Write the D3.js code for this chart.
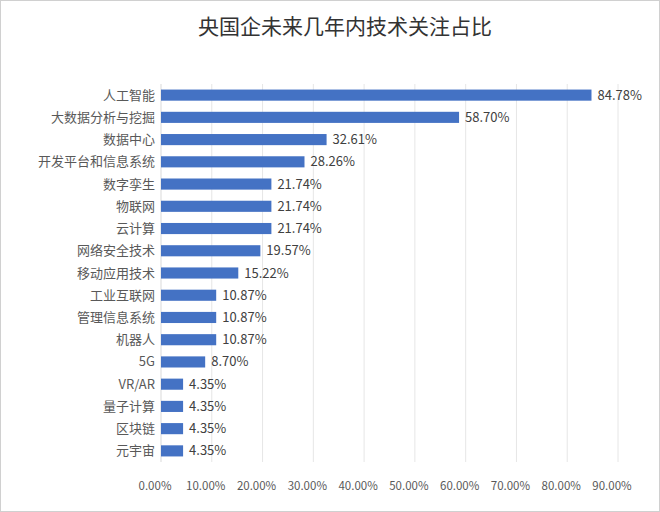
<!DOCTYPE html>
<html><head><meta charset="utf-8">
<script src="https://cdn.jsdelivr.net/npm/d3@7"></script>
<style>body{margin:0;background:#fff}</style>
</head><body>
<script>
const categories = ["人工智能","大数据分析与挖掘","数据中心","开发平台和信息系统","数字孪生","物联网","云计算","网络安全技术","移动应用技术","工业互联网","管理信息系统","机器人","5G","VR/AR","量子计算","区块链","元宇宙"];
const values = [84.78,58.70,32.61,28.26,21.74,21.74,21.74,19.57,15.22,10.87,10.87,10.87,8.70,4.35,4.35,4.35,4.35];
const ticks = [0,10,20,30,40,50,60,70,80,90];

const W = 660, H = 512;
const font = "'Noto Sans CJK SC', 'Noto Sans', sans-serif";
const svg = d3.select("body").append("svg").attr("width", W).attr("height", H);

svg.append("rect").attr("x", 0.5).attr("y", 0.5).attr("width", W - 1).attr("height", H - 1)
  .attr("fill", "none").attr("stroke", "#d0d0d0");

const x = d3.scaleLinear().domain([0, 90]).range([161, 618]);
const y = d3.scaleBand().domain(categories).range([84, 462]).paddingInner(0.5).paddingOuter(0.25);

svg.append("text").attr("x", 345).attr("y", 34).attr("text-anchor", "middle")
  .style("font-family", font).attr("font-size", "21px").attr("fill", "#333")
  .text("央国企未来几年内技术关注占比");

svg.append("g").selectAll("line").data(ticks.slice(1)).join("line")
  .attr("x1", d => x(d)).attr("x2", d => x(d)).attr("y1", 84).attr("y2", 462)
  .attr("stroke", "#e6e6e6").attr("stroke-width", 1);

svg.append("line").attr("x1", x(0)).attr("x2", x(0)).attr("y1", 84).attr("y2", 462)
  .attr("stroke", "#d9d9d9");

svg.append("g").selectAll("rect").data(values).join("rect")
  .attr("x", x(0)).attr("y", (d, i) => y(categories[i]))
  .attr("width", d => x(d) - x(0)).attr("height", y.bandwidth())
  .attr("fill", "#4472c4");

svg.append("g").selectAll("text").data(values).join("text")
  .attr("x", d => x(d) + 6).attr("y", (d, i) => y(categories[i]) + y.bandwidth() / 2)
  .attr("dy", ".35em").style("font-family", font).attr("font-size", "13px").attr("fill", "#404040")
  .text(d => d.toFixed(2) + "%");

svg.append("g").selectAll("text").data(categories).join("text")
  .attr("x", x(0) - 6).attr("y", d => y(d) + y.bandwidth() / 2)
  .attr("dy", ".35em").attr("text-anchor", "end").style("font-family", font)
  .attr("font-size", "13px").attr("fill", "#595959").text(d => d);

svg.append("g").selectAll("text").data(ticks).join("text")
  .attr("x", d => x(d) - 6).attr("y", 490).attr("text-anchor", "middle")
  .style("font-family", font).attr("font-size", "11.5px").attr("fill", "#595959")
  .text(d => d.toFixed(2) + "%");
</script>
</body></html>
